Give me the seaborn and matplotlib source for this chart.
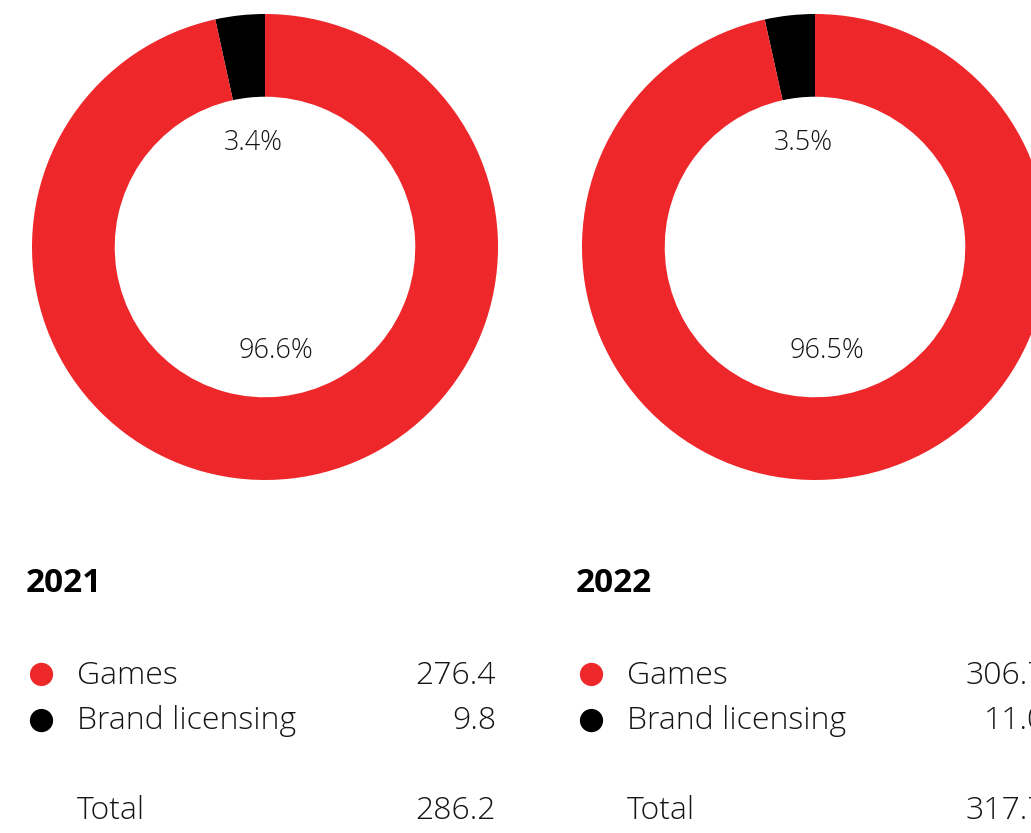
import matplotlib
matplotlib.use("Agg")
import matplotlib.pyplot as plt
import seaborn as sns
import pandas as pd

# Revenue split by segment (EUR million)
years = ["2021", "2022"]
segments = ["Games", "Brand licensing"]
games = [276.4, 306.7]
brand_licensing = [9.8, 11.0]
totals = [286.2, 317.7]

RED = "#EE272B"
BLACK = "#000000"
seg_colors = {"Games": RED, "Brand licensing": BLACK}

sns.set_theme(style="white")
plt.rcParams["font.family"] = ["Open Sans", "DejaVu Sans"]

W, H = 1031, 833
fig = plt.figure(figsize=(W / 100, H / 100), dpi=100)
fig.patch.set_facecolor("white")

col_step = 550          # horizontal distance between the two year blocks (px)
cx0, cy, r = 265, 247, 233
TXT = "#151515"
body = dict(fontsize=23, fontweight="light", color=TXT, va="center")

def px_axes(left, top, width, height):
    return fig.add_axes([left / W, 1 - (top + height) / H, width / W, height / H])

for i, year in enumerate(years):
    off = i * col_step
    ax = px_axes(cx0 - r + off, cy - r, 2 * r, 2 * r)
    vals = [brand_licensing[i], games[i]]
    ax.pie(
        vals,
        colors=[BLACK, RED],
        startangle=90,
        counterclock=True,
        radius=1.0,
        wedgeprops=dict(width=0.355, linewidth=0),
        autopct="%.1f%%",
        pctdistance=0.45,
        textprops=dict(fontsize=19.5, color=TXT, fontweight="light"),
    )
    ax.set_xlim(-1, 1)
    ax.set_ylim(-1, 1)
    ax.set_aspect("equal")
    ax.axis("off")

    # Year heading
    fig.text((26 + off) / W, 1 - 583 / H, year, fontsize=24, fontweight="bold",
             va="center", ha="left", color="black")

    # Legend rows with values
    rows = pd.DataFrame({
        "segment": segments,
        "value": [games[i], brand_licensing[i]],
        "row": [0, 1],
    })
    lax = px_axes(off, 650, 520, 95)
    sns.scatterplot(data=rows, x=[41.5] * 2, y="row", hue="segment",
                    palette=seg_colors, s=280, linewidth=0, legend=False, ax=lax)
    lax.set_xlim(0, 520)
    lax.set_ylim(1.53, -0.53)
    lax.axis("off")
    for _, row in rows.iterrows():
        y_px = 676 + 45 * row["row"]
        fig.text((77 + off) / W, 1 - y_px / H, row["segment"], ha="left", **body)
        fig.text((496 + off) / W, 1 - y_px / H, f"{row['value']:.1f}", ha="right", **body)

    fig.text((77 + off) / W, 1 - 811 / H, "Total", ha="left", **body)
    fig.text((496 + off) / W, 1 - 811 / H, f"{totals[i]:.1f}", ha="right", **body)

fig.savefig("out.png", dpi=100, facecolor="white")
